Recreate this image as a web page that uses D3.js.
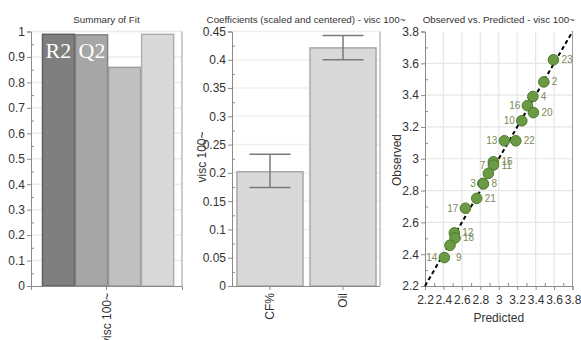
<!DOCTYPE html>
<html>
<head>
<meta charset="utf-8">
<script src="https://cdn.jsdelivr.net/npm/d3@7"></script>
<style>
  body { margin: 0; background: #fff; }
  svg { display: block; font-family: "Liberation Sans", Arial, sans-serif; }
  .axis path, .axis line { stroke: #8a8a8a; }
  .axis text { fill: #333; font-size: 12px; font-family: "Liberation Sans", Arial, sans-serif; }
</style>
</head>
<body>
<div id="chart"></div>
<script>
// summary of fit
const fitNames = ['R2', 'Q2', 'Model validity', 'Reproducibility'];
const fitValues = [0.989, 0.987, 0.859, 0.989];
const fitTags = ['R2', 'Q2', '', ''];
const fitResponse = ['visc 100~'];

// coefficients
const coefTerms = ['CF%', 'Oil'];
const coefValues = [0.202, 0.421];
const coefLow = [0.174, 0.400];
const coefHigh = [0.233, 0.443];

// observed vs predicted
const runIds = ['23', '2', '4', '16', '20', '10', '13', '22', '15', '11', '7', '3', '8', '21', '17', '12', '18', '9', '14'];
const predicted = [3.593, 3.489, 3.370, 3.311, 3.376, 3.250, 3.061, 3.185, 2.942, 2.942, 2.887, 2.827, 2.834, 2.761, 2.638, 2.518, 2.526, 2.471, 2.410];
const observed = [3.622, 3.483, 3.391, 3.334, 3.290, 3.239, 3.113, 3.113, 2.981, 2.960, 2.908, 2.845, 2.842, 2.751, 2.689, 2.534, 2.502, 2.456, 2.379];
const obsTicks = [2.2, 2.4, 2.6, 2.8, 3, 3.2, 3.4, 3.6, 3.8];

// where each run label sits relative to its point (layout only)
const labelPlace = {
  '16': 'l', '10': 'l', '13': 'l', '7': 'ul', '3': 'l', '17': 'l', '14': 'l', '9': 'dr'
};

const W = 581, H = 340;
const svg = d3.select('#chart').append('svg').attr('width', W).attr('height', H);

const plotTop = 31.5, plotBottom = 286;

function title(x, txt) {
  svg.append('text')
    .attr('x', x).attr('y', 22.5)
    .attr('text-anchor', 'middle')
    .attr('font-size', '9.8px')
    .attr('fill', '#333')
    .text(txt);
}

function rightEdge(x) {
  svg.append('line')
    .attr('x1', x).attr('x2', x).attr('y1', plotTop).attr('y2', plotBottom)
    .attr('stroke', '#9a9a9a');
}

// ---------- panel 1 : summary of fit ----------
{
  const x0 = 31, x1 = 182;
  const y = d3.scaleLinear().domain([0, 1]).range([plotBottom, plotTop]);
  const x = d3.scaleBand().domain(fitNames).range([x0, x1]).paddingInner(0.03).paddingOuter(0.3).align(0.58);
  const fills = ['#7f7f7f', '#a6a6a6', '#c0c0c0', '#d9d9d9'];
  const strokes = ['#606060', '#858585', '#9c9c9c', '#b0b0b0'];

  svg.append('g').selectAll('line').data(d3.range(0.1, 1.01, 0.1)).join('line')
    .attr('x1', x0).attr('x2', x1)
    .attr('y1', d => y(d)).attr('y2', d => y(d))
    .attr('stroke', '#ececec').attr('stroke-width', 1.5);

  svg.append('g').selectAll('rect').data(fitValues).join('rect')
    .attr('x', (d, i) => x(fitNames[i]))
    .attr('y', d => y(d))
    .attr('width', x.bandwidth())
    .attr('height', d => plotBottom - y(d))
    .attr('fill', (d, i) => fills[i])
    .attr('stroke', (d, i) => strokes[i])
    .attr('stroke-width', 1.5);

  svg.append('g').selectAll('text').data(fitTags).join('text')
    .attr('x', (d, i) => x(fitNames[i]) + 3)
    .attr('y', 58)
    .attr('font-family', '"Liberation Serif", serif')
    .attr('font-size', '22px')
    .attr('fill', '#fff')
    .text(d => d);

  rightEdge(x1);

  svg.append('g').attr('class', 'axis').attr('transform', `translate(${x0},0)`)
    .call(d3.axisLeft(y).tickValues(d3.range(0, 1.01, 0.1)).tickFormat(d => String(+d.toFixed(1))).tickSizeOuter(0).tickSize(4).tickPadding(2));
  svg.append('g').attr('class', 'axis').attr('transform', `translate(${x0},0)`)
    .call(d3.axisRight(y).tickValues(d3.range(0.05, 1, 0.1)).tickFormat('').tickSize(3))
    .select('.domain').remove();

  const xr = d3.scaleBand().domain(fitResponse).range([x0, x1]);
  const xa = svg.append('g').attr('class', 'axis').attr('transform', `translate(0,${plotBottom})`)
    .call(d3.axisBottom(xr).tickSizeOuter(0).tickSize(4));
  xa.selectAll('text')
    .attr('transform', 'rotate(-90)')
    .attr('text-anchor', 'end')
    .attr('x', -7).attr('y', 0).attr('dy', '0.35em');

  title((x0 + x1) / 2, 'Summary of Fit');
}

// ---------- panel 2 : coefficients ----------
{
  const x0 = 232, x1 = 380;
  const y = d3.scaleLinear().domain([0, 0.45]).range([plotBottom, plotTop]);
  const x = d3.scaleBand().domain(coefTerms).range([x0, 381]).paddingInner(0.096).paddingOuter(0.068);

  svg.append('g').selectAll('line').data(d3.range(0.05, 0.451, 0.05)).join('line')
    .attr('x1', x0).attr('x2', x1)
    .attr('y1', d => y(d)).attr('y2', d => y(d))
    .attr('stroke', '#efefef').attr('stroke-width', 1.5);

  svg.append('g').selectAll('rect').data(coefValues).join('rect')
    .attr('x', (d, i) => x(coefTerms[i]))
    .attr('y', d => y(d))
    .attr('width', x.bandwidth())
    .attr('height', d => plotBottom - y(d))
    .attr('fill', '#d9d9d9')
    .attr('stroke', '#a8a8a8')
    .attr('stroke-width', 1.5);

  const eb = svg.append('g').attr('stroke', '#7a7a7a').attr('stroke-width', 1.5);
  coefTerms.forEach((t, i) => {
    const cx = x(t) + x.bandwidth() / 2;
    const hw = 20.5;
    eb.append('line').attr('x1', cx).attr('x2', cx).attr('y1', y(coefHigh[i])).attr('y2', y(coefLow[i]));
    eb.append('line').attr('x1', cx - hw).attr('x2', cx + hw).attr('y1', y(coefHigh[i])).attr('y2', y(coefHigh[i]));
    eb.append('line').attr('x1', cx - hw).attr('x2', cx + hw).attr('y1', y(coefLow[i])).attr('y2', y(coefLow[i]));
  });

  rightEdge(x1);

  svg.append('g').attr('class', 'axis').attr('transform', `translate(${x0},0)`)
    .call(d3.axisLeft(y).tickValues(d3.range(0, 0.451, 0.05)).tickFormat(d => String(+d.toFixed(2))).tickSizeOuter(0).tickSize(4).tickPadding(2));
  svg.append('g').attr('class', 'axis').attr('transform', `translate(${x0},0)`)
    .call(d3.axisRight(y).tickValues(d3.range(0.025, 0.45, 0.05)).tickFormat('').tickSize(3))
    .select('.domain').remove();

  const xa = svg.append('g').attr('class', 'axis').attr('transform', `translate(0,${plotBottom})`)
    .call(d3.axisBottom(x).tickSizeOuter(0).tickSize(4));
  xa.select('.domain').attr('d', `M${x0},0.5H${x1}`);
  xa.selectAll('text')
    .attr('transform', 'rotate(-90)')
    .attr('text-anchor', 'end')
    .attr('x', -7).attr('y', 0).attr('dy', '0.35em');

  svg.append('text')
    .attr('transform', `translate(205.5,157) rotate(-90)`)
    .attr('text-anchor', 'middle')
    .attr('font-size', '12px').attr('fill', '#333')
    .text('visc 100~');

  title((x0 + x1) / 2, 'Coefficients (scaled and centered) - visc 100~');
}

// ---------- panel 3 : observed vs predicted ----------
{
  const x0 = 425, x1 = 572.5;
  const x = d3.scaleLinear().domain([2.2, 3.8]).range([x0, x1]);
  const y = d3.scaleLinear().domain([2.2, 3.8]).range([plotBottom, plotTop]);
  const fmt = d => String(+d.toFixed(1));

  const grid = svg.append('g').attr('stroke', '#e6e6e6').attr('stroke-width', 1.2);
  grid.selectAll('.gx').data(obsTicks.slice(1, -1)).join('line')
    .attr('x1', d => x(d)).attr('x2', d => x(d)).attr('y1', plotTop).attr('y2', plotBottom);
  grid.selectAll('.gy').data(obsTicks.slice(1, -1)).join('line')
    .attr('x1', x0).attr('x2', x1).attr('y1', d => y(d)).attr('y2', d => y(d));

  rightEdge(x1);

  svg.append('g').attr('class', 'axis').attr('transform', `translate(${x0},0)`)
    .call(d3.axisLeft(y).tickValues(obsTicks).tickFormat(fmt).tickSizeOuter(0).tickSize(4).tickPadding(2));
  svg.append('g').attr('class', 'axis').attr('transform', `translate(${x0},0)`)
    .call(d3.axisRight(y).tickValues(d3.range(2.3, 3.8, 0.2)).tickFormat('').tickSize(3))
    .select('.domain').remove();
  svg.append('g').attr('class', 'axis').attr('transform', `translate(0,${plotBottom})`)
    .call(d3.axisBottom(x).tickValues(obsTicks).tickFormat(fmt).tickSizeOuter(0).tickSize(4).tickPadding(5))
    .selectAll('text').attr('font-size', '11.3px');
  svg.append('g').attr('class', 'axis').attr('transform', `translate(0,${plotBottom})`)
    .call(d3.axisTop(x).tickValues(d3.range(2.3, 3.8, 0.2)).tickFormat('').tickSize(3))
    .select('.domain').remove();

  svg.append('line')
    .attr('x1', x(2.2)).attr('y1', y(2.2)).attr('x2', x(3.8)).attr('y2', y(3.8))
    .attr('stroke', '#000').attr('stroke-width', 2).attr('stroke-dasharray', '4,3');

  svg.append('g').selectAll('circle').data(runIds).join('circle')
    .attr('cx', (d, i) => x(predicted[i]))
    .attr('cy', (d, i) => y(observed[i]))
    .attr('r', 5.3)
    .attr('fill', '#6b9a45')
    .attr('stroke', '#4d7a2e')
    .attr('stroke-width', 1);

  svg.append('g').selectAll('text').data(runIds).join('text')
    .attr('x', (d, i) => {
      const p = labelPlace[d] || 'r', cx = x(predicted[i]);
      if (p === 'l') return cx - 7;
      if (p === 'ul') return cx - 3;
      if (p === 'dr') return cx + 6;
      return cx + 8;
    })
    .attr('y', (d, i) => {
      const p = labelPlace[d] || 'r', cy = y(observed[i]);
      if (p === 'ul') return cy - 8;
      if (p === 'dr') return cy + 12;
      return cy;
    })
    .attr('dy', '0.35em')
    .attr('text-anchor', d => (labelPlace[d] === 'l' || labelPlace[d] === 'ul') ? 'end' : 'start')
    .attr('font-size', '10px')
    .attr('fill', '#7d8a5a')
    .text(d => d);

  svg.append('text')
    .attr('x', (x0 + x1) / 2).attr('y', 322)
    .attr('text-anchor', 'middle')
    .attr('font-size', '12px').attr('fill', '#333')
    .text('Predicted');
  svg.append('text')
    .attr('transform', `translate(401,160) rotate(-90)`)
    .attr('text-anchor', 'middle')
    .attr('font-size', '12px').attr('fill', '#333')
    .text('Observed');

  title((x0 + x1) / 2, 'Observed vs. Predicted - visc 100~');
}
</script>
</body>
</html>
